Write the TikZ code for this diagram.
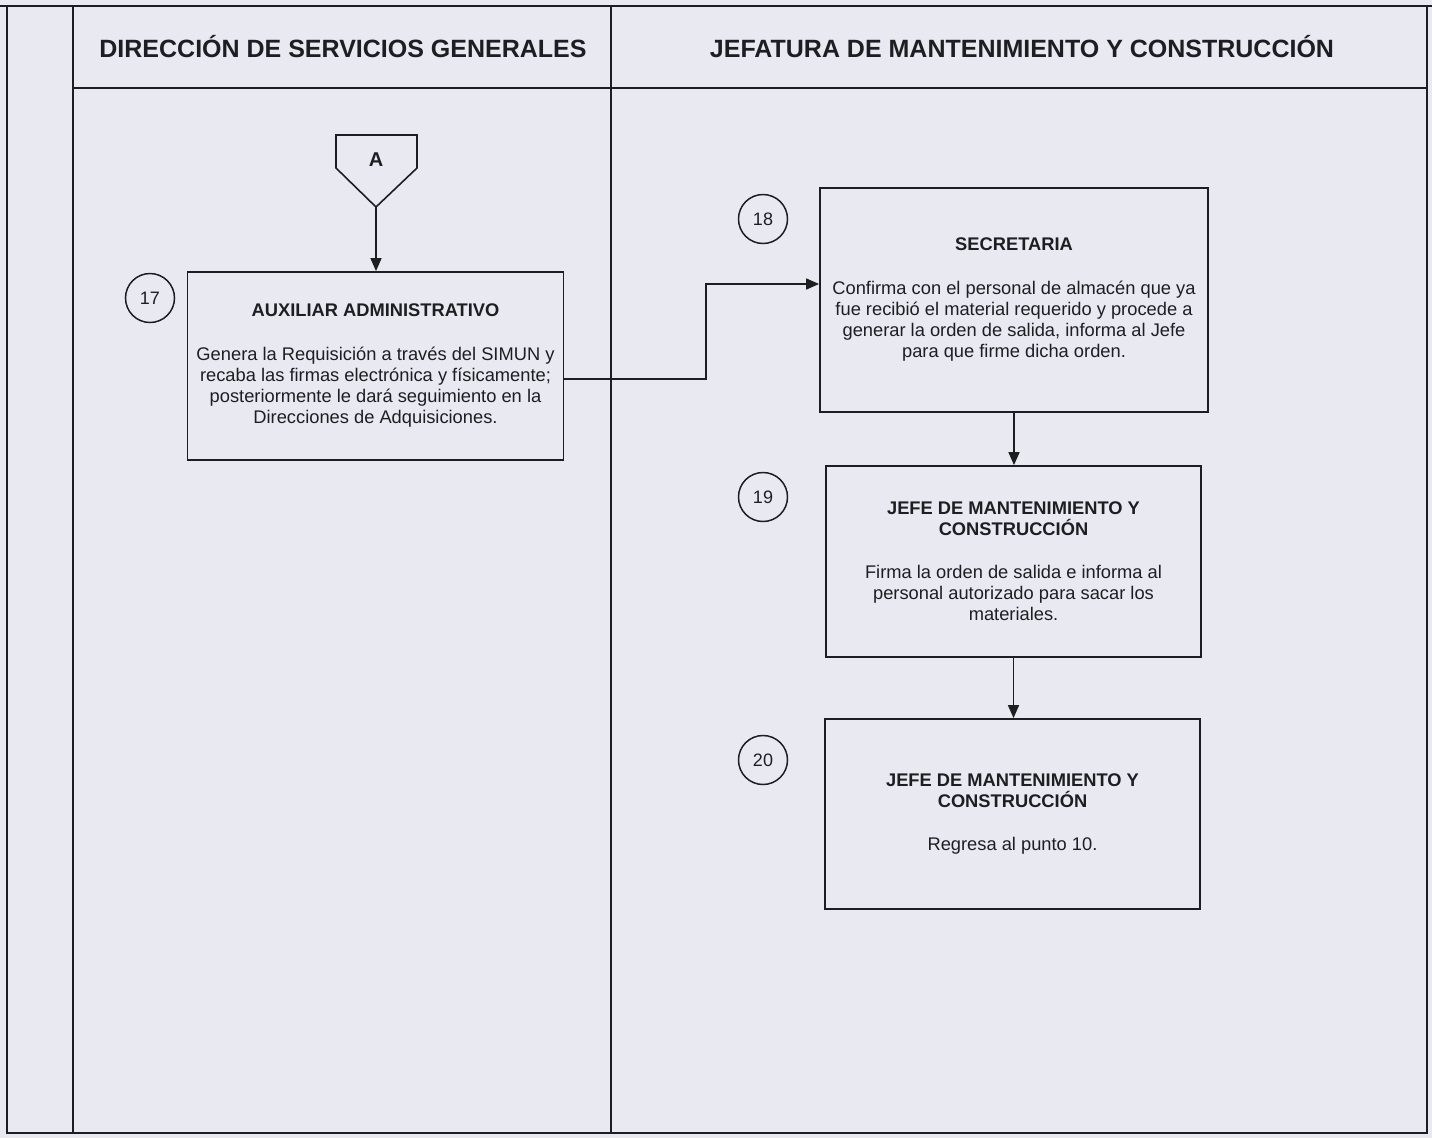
\documentclass[tikz,border=0pt]{standalone}
\usepackage{fontspec}
\setmainfont{Liberation Sans}
\usetikzlibrary{arrows.meta,calc}
\definecolor{paper}{RGB}{233,233,241}
\definecolor{ink}{RGB}{30,30,34}
\begin{document}
\begin{tikzpicture}[x=1pt,y=-1pt,
  frame/.style={draw=ink,line width=2pt},
  stepbox/.style={draw=ink,line width=1.8pt,align=center,inner sep=0pt,
    font=\fontsize{18.3}{21}\selectfont,text=ink},
  numcirc/.style={draw=ink,line width=1.5pt,circle,minimum size=49pt,inner sep=0pt,
    font=\fontsize{18}{21}\selectfont,text=ink},
  lanehead/.style={font=\fontsize{25}{30}\selectfont\bfseries,text=ink},
  flow/.style={draw=ink,line width=1.6pt,-{Triangle[length=13pt,width=11pt]}},
  link/.style={draw=ink,line width=1.6pt}]
\useasboundingbox (0,0) rectangle (1432,1138);
\fill[paper] (0,0) rectangle (1432,1138);

% swimlane frame
\draw[frame] (7,6) rectangle (1427,1133);
\draw[frame] (0,6) -- (1432,6);
\draw[frame] (73,6) -- (73,1133);
\draw[frame] (611,6) -- (611,1133);
\draw[frame] (73,88) -- (1427,88);

\node[lanehead] (lane1) at (343,47) {DIRECCIÓN DE SERVICIOS GENERALES};
\node[lanehead] (lane2) at (1022,47) {JEFATURA DE MANTENIMIENTO Y CONSTRUCCIÓN};

% off-page connector A
\draw[draw=ink,line width=1.6pt,line join=miter] (336,135) -- (417,135) -- (417,168) -- (376,207) -- (336,168) -- cycle;
\node[font=\fontsize{20}{24}\selectfont\bfseries,text=ink] (offA) at (376,160) {A};
\coordinate (Atip) at (376,207);

% process steps
\node[stepbox,minimum width=376pt,minimum height=188pt] (b17) at (375.5,366)
 {\textbf{AUXILIAR ADMINISTRATIVO}\\[23pt]
  Genera la Requisición a través del SIMUN y\\
  recaba las firmas electrónica y físicamente;\\
  posteriormente le dará seguimiento en la\\
  Direcciones de Adquisiciones.};
\node[stepbox,minimum width=388pt,minimum height=224pt] (b18) at (1014,300)
 {\textbf{SECRETARIA}\\[23pt]
  Confirma con el personal de almacén que ya\\
  fue recibió el material requerido y procede a\\
  generar la orden de salida, informa al Jefe\\
  para que firme dicha orden.};
\node[stepbox,minimum width=375pt,minimum height=191pt] (b19) at (1013.5,561.5)
 {\textbf{JEFE DE MANTENIMIENTO Y}\\
  \textbf{CONSTRUCCIÓN}\\[22pt]
  Firma la orden de salida e informa al\\
  personal autorizado para sacar los\\
  materiales.};
\node[stepbox,minimum width=375pt,minimum height=190pt] (b20) at (1012.5,814)
 {\textbf{JEFE DE MANTENIMIENTO Y}\\
  \textbf{CONSTRUCCIÓN}\\[22pt]
  Regresa al punto 10.};

% step numbers
\node[numcirc] (n17) at (150,298) {17};
\node[numcirc] (n18) at (763,219) {18};
\node[numcirc] (n19) at (763,497) {19};
\node[numcirc] (n20) at (763,760) {20};

% connectors
\coordinate (bend) at (706,330);
\draw[flow] (Atip) -- (Atip |- b17.north);
\draw[flow] ([yshift=-13pt]b17.east) -| (bend) |- ([yshift=16pt]b18.west);
\draw[flow] (b18.south) -- (b18.south |- b19.north);
\draw[flow] (b19.south) -- (b19.south |- b20.north);
\end{tikzpicture}
\end{document}
